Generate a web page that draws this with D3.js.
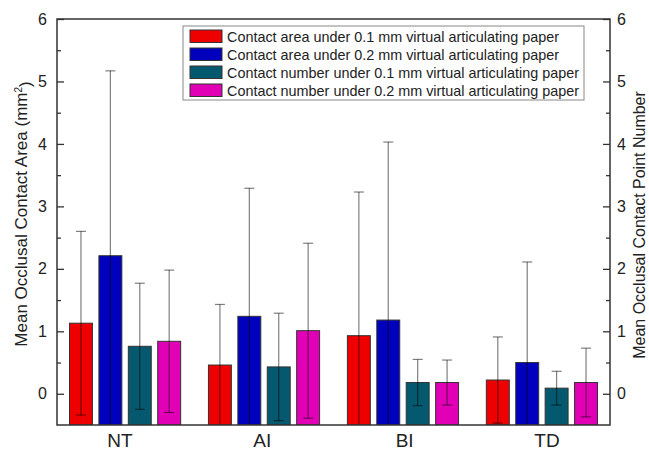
<!DOCTYPE html>
<html>
<head>
<meta charset="utf-8">
<script src="https://cdn.jsdelivr.net/npm/d3@7"></script>
<style>
  body { margin: 0; background: #fff; }
  text { font-family: "Liberation Sans", Arial, sans-serif; fill: #222; }
</style>
</head>
<body>
<div id="vis"></div>
<script>
// data
let groups = ['NT', 'AI', 'BI', 'TD'];
let seriesNames = [
  'Contact area under 0.1 mm virtual articulating paper',
  'Contact area under 0.2 mm virtual articulating paper',
  'Contact number under 0.1 mm virtual articulating paper',
  'Contact number under 0.2 mm virtual articulating paper'
];
let seriesColors = ['#ee0000', '#0000bd', '#04596e', '#e200b6'];
// mean per group, one array per series
let areaMean01 = [1.13, 0.46, 0.93, 0.22];
let areaMean02 = [2.21, 1.24, 1.18, 0.50];
let numberMean01 = [0.76, 0.43, 0.18, 0.09];
let numberMean02 = [0.84, 1.01, 0.18, 0.18];
// standard deviations
let areaSd01 = [1.47, 0.97, 2.30, 0.69];
let areaSd02 = [2.96, 2.05, 2.85, 1.61];
let numberSd01 = [1.01, 0.86, 0.37, 0.27];
let numberSd02 = [1.14, 1.40, 0.36, 0.55];
let yTicks = [0, 1, 2, 3, 4, 5, 6];
let yMinorTicks = [0.5, 1.5, 2.5, 3.5, 4.5, 5.5];

let means = [areaMean01, areaMean02, numberMean01, numberMean02];
let sds = [areaSd01, areaSd02, numberSd01, numberSd02];

// size of the page and plot area
let width = 649;
let height = 451;
let margin = { top: 19, left: 57, bottom: 26, right: 39 };
let innerW = width - margin.left - margin.right;
let innerH = height - margin.top - margin.bottom;

let svg = d3.select('#vis').append('svg')
  .attr('width', width)
  .attr('height', height);

let g = svg.append('g')
  .attr('transform', 'translate(' + margin.left + ',' + margin.top + ')');

let x0 = d3.scaleBand()
  .domain(groups)
  .range([0, innerW])
  .paddingInner(0.2)
  .paddingOuter(0.09);

let x1 = d3.scaleBand()
  .domain(d3.range(seriesNames.length))
  .range([0, x0.bandwidth()])
  .paddingInner(0.22)
  .paddingOuter(0);

// category labels sit on a slightly wider spacing than the bars
let xLabel = d3.scalePoint()
  .domain(groups)
  .range([63, 490]);

let y = d3.scaleLinear()
  .domain([-0.5, 6])
  .range([innerH, 0]);

// flatten into one record per bar
let bars = [];
groups.forEach(function (grp, gi) {
  means.forEach(function (m, si) {
    bars.push({ group: grp, s: si, mean: m[gi], sd: sds[si][gi] });
  });
});

g.append('clipPath').attr('id', 'plotclip')
  .append('rect').attr('x', 0).attr('y', 0).attr('width', innerW).attr('height', innerH);

let barG = g.append('g').attr('clip-path', 'url(#plotclip)');

barG.selectAll('rect.bar')
  .data(bars)
  .join('rect')
  .attr('class', 'bar')
  .attr('x', d => x0(d.group) + x1(d.s))
  .attr('width', x1.bandwidth())
  .attr('y', d => y(d.mean))
  .attr('height', d => y(-0.5) - y(d.mean))
  .attr('fill', d => seriesColors[d.s])
  .attr('stroke', '#333')
  .attr('stroke-width', 1);

// error bars
let errG = barG.selectAll('g.err')
  .data(bars)
  .join('g')
  .attr('class', 'err')
  .attr('stroke', '#000')
  .attr('stroke-opacity', 0.5)
  .attr('stroke-width', 1.2);

let cx = d => x0(d.group) + x1(d.s) + x1.bandwidth() / 2;

errG.append('line')
  .attr('x1', cx).attr('x2', cx)
  .attr('y1', d => y(d.mean + d.sd))
  .attr('y2', d => y(d.mean - d.sd));

errG.append('line')
  .attr('x1', d => cx(d) - 5).attr('x2', d => cx(d) + 5)
  .attr('y1', d => y(d.mean + d.sd))
  .attr('y2', d => y(d.mean + d.sd));

errG.append('line')
  .attr('x1', d => cx(d) - 5).attr('x2', d => cx(d) + 5)
  .attr('y1', d => y(d.mean - d.sd))
  .attr('y2', d => y(d.mean - d.sd));

// axes, ticks pointing inward
let yAxisLeft = d3.axisLeft(y).tickValues(yTicks).tickFormat(d3.format('d')).tickSize(-7).tickPadding(10);
let yAxisRight = d3.axisRight(y).tickValues(yTicks).tickFormat(d3.format('d')).tickSize(-7).tickPadding(7);

let leftAx = g.append('g').call(yAxisLeft);
let rightAx = g.append('g').attr('transform', 'translate(' + innerW + ',0)').call(yAxisRight);

[leftAx, rightAx].forEach(function (ax) {
  ax.select('.domain').remove();
  ax.selectAll('line').attr('stroke', '#333').attr('stroke-width', 1.3);
  ax.selectAll('text').style('font-size', '16px').attr('fill', '#222')
    .style('font-family', '"Liberation Sans", Arial, sans-serif');
});

g.append('g').call(d3.axisLeft(y).tickValues(yMinorTicks).tickSize(-4).tickFormat(''))
  .call(a => a.select('.domain').remove())
  .selectAll('line').attr('stroke', '#333').attr('stroke-width', 1.3);
g.append('g').attr('transform', 'translate(' + innerW + ',0)')
  .call(d3.axisRight(y).tickValues(yMinorTicks).tickSize(-4).tickFormat(''))
  .call(a => a.select('.domain').remove())
  .selectAll('line').attr('stroke', '#333').attr('stroke-width', 1.3);

// frame
g.append('rect')
  .attr('x', 0).attr('y', 0)
  .attr('width', innerW).attr('height', innerH)
  .attr('fill', 'none')
  .attr('stroke', '#333')
  .attr('stroke-width', 1.5);

// category labels
g.selectAll('text.cat')
  .data(groups)
  .join('text')
  .attr('class', 'cat')
  .attr('x', d => xLabel(d))
  .attr('y', innerH + 22)
  .attr('text-anchor', 'middle')
  .style('font-size', '19px')
  .text(d => d);

// axis titles
let leftTitle = svg.append('text')
  .attr('transform', 'translate(27,214) rotate(-90)')
  .attr('text-anchor', 'middle')
  .style('font-size', '17px');
leftTitle.append('tspan').text('Mean Occlusal Contact Area (mm');
leftTitle.append('tspan').text('2').attr('dy', '-0.55em').style('font-size', '10px');
leftTitle.append('tspan').text(')').attr('dy', '0.55em');

svg.append('text')
  .attr('transform', 'translate(645,225) rotate(-90)')
  .attr('text-anchor', 'middle')
  .style('font-size', '16px')
  .text('Mean Occlusal Contact Point Number');

// legend
let legend = svg.append('g').attr('transform', 'translate(183,26)');
legend.append('rect')
  .attr('width', 401).attr('height', 74)
  .attr('fill', '#fff')
  .attr('stroke', '#888')
  .attr('stroke-width', 1);

let items = legend.selectAll('g.item')
  .data(seriesNames)
  .join('g')
  .attr('class', 'item')
  .attr('transform', (d, i) => 'translate(7,' + (4 + i * 18) + ')');

items.append('rect')
  .attr('width', 32).attr('height', 12.5)
  .attr('fill', (d, i) => seriesColors[i])
  .attr('stroke', '#333')
  .attr('stroke-width', 1);

items.append('text')
  .attr('x', 37)
  .attr('y', 11.5)
  .style('font-size', '14.4px')
  .text(d => d);
</script>
</body>
</html>
